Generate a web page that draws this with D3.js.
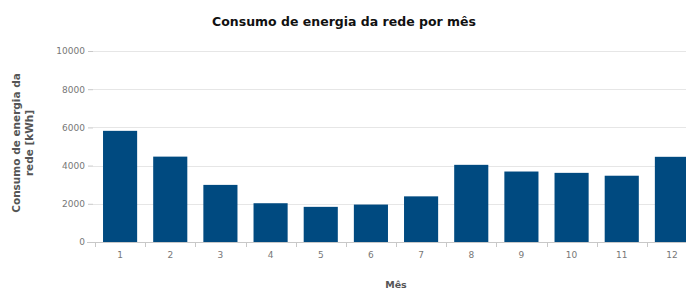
<!DOCTYPE html>
<meta charset="utf-8">
<style>
    body { margin: 0; background: #fff; }
    text { font-family: "DejaVu Sans", sans-serif; }
    .grid line { stroke: #e6e6e6; stroke-width: 1; }
    .axis text { fill: #777; font-size: 9px; }
    .axis path, .axis line { stroke: #c8c8c8; }
    .title { font-size: 12.5px; font-weight: bold; fill: #111; }
    .atitle { font-size: 9.5px; font-weight: bold; fill: #555; }
</style>
<body>
<script src="https://cdn.jsdelivr.net/npm/d3@7"></script>
<script>

    var months = ["1", "2", "3", "4", "5", "6", "7", "8", "9", "10", "11", "12"];
    var consumo = [5820, 4470, 2990, 2030, 1840, 1960, 2390, 4040, 3690, 3620, 3470, 4460];
    var yTicks = [0, 2000, 4000, 6000, 8000, 10000];

    var W = 686, H = 291;
    var margin = {top: 51, left: 95, bottom: 49},
        width = 602,
        height = H - margin.top - margin.bottom;

    var svg = d3.select("body").append("svg")
            .attr("width", W)
            .attr("height", H);

    var x = d3.scaleBand()
            .domain(months)
            .range([0, width])
            .paddingInner(0.32)
            .paddingOuter(0.16);

    var y = d3.scaleLinear()
            .domain([0, 10000])
            .range([height, 0]);

    var g = svg.append("g")
            .attr("transform", "translate(" + margin.left + "," + margin.top + ")");

    g.append("g")
            .attr("class", "grid")
        .selectAll("line")
        .data(yTicks.slice(1))
        .enter().append("line")
            .attr("x1", -2).attr("x2", width)
            .attr("y1", function(d) { return Math.round(y(d)) + 0.5; })
            .attr("y2", function(d) { return Math.round(y(d)) + 0.5; });

    g.selectAll("rect.bar")
        .data(consumo)
        .enter().append("rect")
            .attr("class", "bar")
            .attr("x", function(d, i) { return x(months[i]); })
            .attr("width", x.bandwidth())
            .attr("y", function(d) { return y(d); })
            .attr("height", function(d) { return height - y(d); })
            .attr("fill", "#004a80");

    // y axis: labels plus small ticks
    var yAxis = d3.axisLeft(y).tickValues(yTicks).tickFormat(d3.format("d")).tickSize(5).tickPadding(3);
    g.append("g")
            .attr("class", "axis")
            .attr("transform", "translate(-2,0)")
            .call(yAxis)
            .call(function(s) { s.select(".domain").remove(); });

    // x axis: ticks sit between categories
    var step = x.step();
    var xa = g.append("g")
            .attr("class", "axis")
            .attr("transform", "translate(0," + height + ")");
    xa.append("line")
            .attr("x1", -8).attr("x2", width)
            .attr("y1", 0.5).attr("y2", 0.5);
    xa.selectAll("line.tk")
        .data(d3.range(months.length + 1))
        .enter().append("line")
            .attr("class", "tk")
            .attr("x1", function(i) { return Math.round(i * step) + 0.5; })
            .attr("x2", function(i) { return Math.round(i * step) + 0.5; })
            .attr("y1", 0).attr("y2", 5);
    xa.selectAll("text")
        .data(months)
        .enter().append("text")
            .attr("x", function(d) { return x(d) + x.bandwidth() / 2; })
            .attr("y", 16)
            .attr("text-anchor", "middle")
            .text(function(d) { return d; });

    svg.append("text")
            .attr("class", "title")
            .attr("x", 344)
            .attr("y", 26)
            .attr("text-anchor", "middle")
            .text("Consumo de energia da rede por mês");

    svg.append("text")
            .attr("class", "atitle")
            .attr("x", margin.left + width / 2)
            .attr("y", 288)
            .attr("text-anchor", "middle")
            .text("Mês");

    var yt = svg.append("text")
            .attr("class", "atitle")
            .style("font-size", "10.5px")
            .attr("transform", "translate(20,143) rotate(-90)")
            .attr("text-anchor", "middle");
    yt.append("tspan").attr("x", 0).attr("dy", 0).text("Consumo de energia da");
    yt.append("tspan").attr("x", 0).attr("dy", 13).text("rede [kWh]");

</script>
